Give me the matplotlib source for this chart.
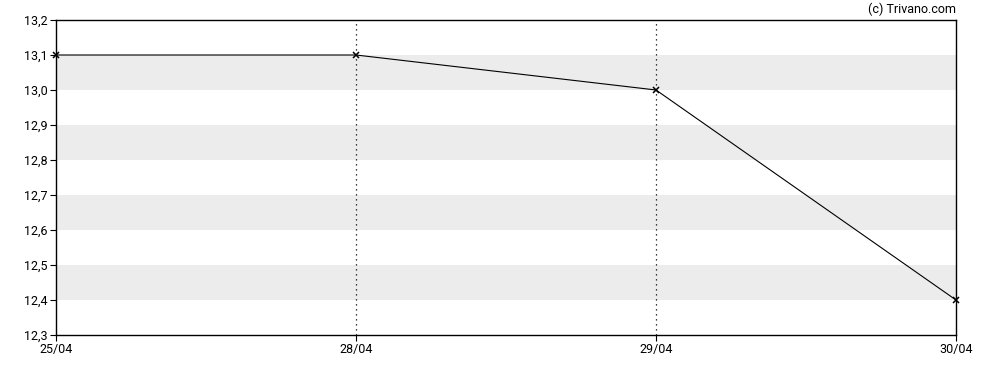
import matplotlib
matplotlib.use("Agg")
import matplotlib.pyplot as plt

dates = ["25/04", "28/04", "29/04", "30/04"]
prices = [13.1, 13.1, 13.0, 12.4]
y_ticks = [12.3, 12.4, 12.5, 12.6, 12.7, 12.8, 12.9, 13.0, 13.1, 13.2]
bands = [(12.4, 12.5), (12.6, 12.7), (12.8, 12.9), (13.0, 13.1)]

plt.rcParams["font.family"] = ["Roboto", "DejaVu Sans"]

fig = plt.figure(figsize=(9.88, 3.7), dpi=100)
ax = fig.add_axes([56 / 988, 1 - 335 / 370, 900 / 988, 315 / 370])

x = list(range(len(dates)))

for lo, hi in bands:
    ax.axhspan(lo, hi, color="#ececec", lw=0, zorder=0)

for xi in x[1:-1]:
    ax.axvline(xi, color="black", lw=0.9, ls=(0, (1, 3)), zorder=1)

ax.plot(x, prices, color="black", lw=0.8, marker="x", ms=4.5, mew=1.1,
        zorder=3, clip_on=False)

ax.set_xlim(x[0], x[-1])
ax.set_ylim(y_ticks[0], y_ticks[-1])
ax.set_xticks(x)
ax.set_xticklabels(dates)
ax.set_yticks(y_ticks)
ax.set_yticklabels([f"{v:.1f}".replace(".", ",") for v in y_ticks])
ax.tick_params(labelsize=9, length=4, width=0.8, pad=2, colors="black")

for s in ax.spines.values():
    s.set_linewidth(1)

fig.text(956 / 988, 1 - 9 / 370, "(c) Trivano.com", ha="right", va="center", fontsize=9)

fig.savefig("out.png", dpi=100)
